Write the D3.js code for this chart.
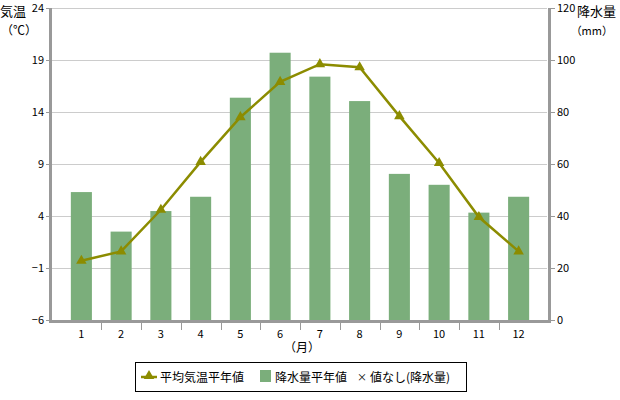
<!DOCTYPE html>
<html><head><meta charset="utf-8">
<script src="https://cdn.jsdelivr.net/npm/d3@7"></script>
<style>
body{margin:0;background:#fff;}
text{font-family:"Noto Sans CJK JP","DejaVu Sans",sans-serif;fill:#000;}
</style></head>
<body><svg id="c" width="620" height="400"></svg>
<script>
const months = ["1","2","3","4","5","6","7","8","9","10","11","12"];
const tempValues = [-0.3, 0.6, 4.6, 9.2, 13.5, 16.9, 18.6, 18.3, 13.6, 9.1, 3.9, 0.6];
const precipValues = [49.2, 34.0, 41.9, 47.4, 85.5, 102.8, 93.6, 84.2, 56.2, 52.0, 41.3, 47.4];
const tempTicks = [-6, -1, 4, 9, 14, 19, 24];
const precipTicks = [0, 20, 40, 60, 80, 100, 120];
const legendLabels = ["平均気温平年値", "降水量平年値", "値なし(降水量)"];

const svg = d3.select("#c");
const L = 51, R = 550, T = 8, B = 320;
const lineColor = "#8c8c00", barColor = "#7bae7b", axisColor = "#999999";

const x = d3.scaleBand().domain(months).range([61.5, 538.5]).padding(0);
const yT = d3.scaleLinear().domain([-6, 24]).range([B, T]);
const yP = d3.scaleLinear().domain([0, 120]).range([B, T]);

// gridlines
svg.append("g").selectAll("line").data(tempTicks.filter(d => d > -6)).join("line")
  .attr("x1", L).attr("x2", R - 3).attr("y1", d => Math.round(yT(d)) + 0.5).attr("y2", d => Math.round(yT(d)) + 0.5)
  .attr("stroke", "#cccccc").attr("stroke-width", 1);

// bars
const bw = x.bandwidth() * 0.53;
svg.append("g").selectAll("rect").data(precipValues).join("rect")
  .attr("x", (d, i) => x(months[i]) + x.bandwidth() / 2 - bw / 2)
  .attr("y", d => yP(d)).attr("width", bw).attr("height", d => B - yP(d))
  .attr("fill", barColor);

// line
const line = d3.line().x((d, i) => x(months[i]) + x.bandwidth() / 2).y(d => yT(d));
svg.append("path").datum(tempValues).attr("d", line)
  .attr("fill", "none").attr("stroke", lineColor).attr("stroke-width", 2.5);
const tri = d3.symbol().type(d3.symbolTriangle).size(48);
svg.append("g").selectAll("path").data(tempValues).join("path")
  .attr("d", tri)
  .attr("transform", (d, i) => `translate(${x(months[i]) + x.bandwidth() / 2},${yT(d)})`)
  .attr("fill", lineColor);

// left axis
const gl = svg.append("g").attr("transform", `translate(${L},0)`)
  .call(d3.axisLeft(yT).tickValues(tempTicks).tickSize(5).tickPadding(2).tickFormat(d3.format("d")));
gl.select(".domain").remove();
gl.selectAll(".tick line").attr("stroke", axisColor);
gl.selectAll(".tick text").style("font-size", "11px");
svg.append("rect").attr("x", L - 2).attr("y", T).attr("width", 3).attr("height", B - T + 3).attr("fill", axisColor);

// right axis
const gr = svg.append("g").attr("transform", `translate(${R},0)`)
  .call(d3.axisRight(yP).tickValues(precipTicks).tickSize(5).tickPadding(2).tickFormat(d3.format("d")));
gr.select(".domain").remove();
gr.selectAll(".tick line").attr("stroke", axisColor);
gr.selectAll(".tick text").style("font-size", "11px");
svg.append("rect").attr("x", R - 2).attr("y", T).attr("width", 3).attr("height", B - T + 3).attr("fill", axisColor);

// bottom axis
svg.append("rect").attr("x", L - 2).attr("y", B).attr("width", R - L + 3).attr("height", 3).attr("fill", axisColor);
const gb = svg.append("g").attr("transform", `translate(0,${B + 2})`);
gb.selectAll("line").data(months.slice(1)).join("line")
  .attr("x1", d => Math.round(x(d)) + 0.5).attr("x2", d => Math.round(x(d)) + 0.5)
  .attr("y1", 0).attr("y2", 8).attr("stroke", axisColor);
gb.selectAll("text").data(months).join("text")
  .attr("x", d => x(d) + x.bandwidth() / 2).attr("y", 16)
  .attr("text-anchor", "middle").style("font-size", "11px").text(d => d);
svg.append("text").attr("x", 302).attr("y", 352).attr("text-anchor", "middle")
  .style("font-size", "12px").text("（月）");

// axis titles
svg.append("text").attr("x", 0).attr("y", 16).style("font-size", "13px").text("気温");
svg.append("text").attr("x", 1).attr("y", 35).style("font-size", "12px").text("（℃）");
svg.append("text").attr("x", 577).attr("y", 16).style("font-size", "13px").text("降水量");
svg.append("text").attr("x", 613).attr("y", 35).attr("text-anchor", "end").style("font-size", "11px").text("（mm）");

// legend
const lg = svg.append("g");
lg.append("rect").attr("x", 135.5).attr("y", 362.5).attr("width", 331).attr("height", 29)
  .attr("fill", "#fff").attr("stroke", "#000").attr("stroke-width", 1);
lg.append("line").attr("x1", 141).attr("x2", 157).attr("y1", 377).attr("y2", 377)
  .attr("stroke", lineColor).attr("stroke-width", 2.5);
lg.append("path").attr("d", tri).attr("transform", "translate(149,376)").attr("fill", lineColor);
lg.append("text").attr("x", 160).attr("y", 382).style("font-size", "12px").text(legendLabels[0]);
lg.append("rect").attr("x", 260).attr("y", 370).attr("width", 11).attr("height", 12).attr("fill", barColor);
lg.append("text").attr("x", 275).attr("y", 382).style("font-size", "12px").text(legendLabels[1]);
lg.append("text").attr("x", 357).attr("y", 381).style("font-size", "10px").text("×");
lg.append("text").attr("x", 370).attr("y", 382).style("font-size", "12px").text(legendLabels[2]);
</script></body></html>
